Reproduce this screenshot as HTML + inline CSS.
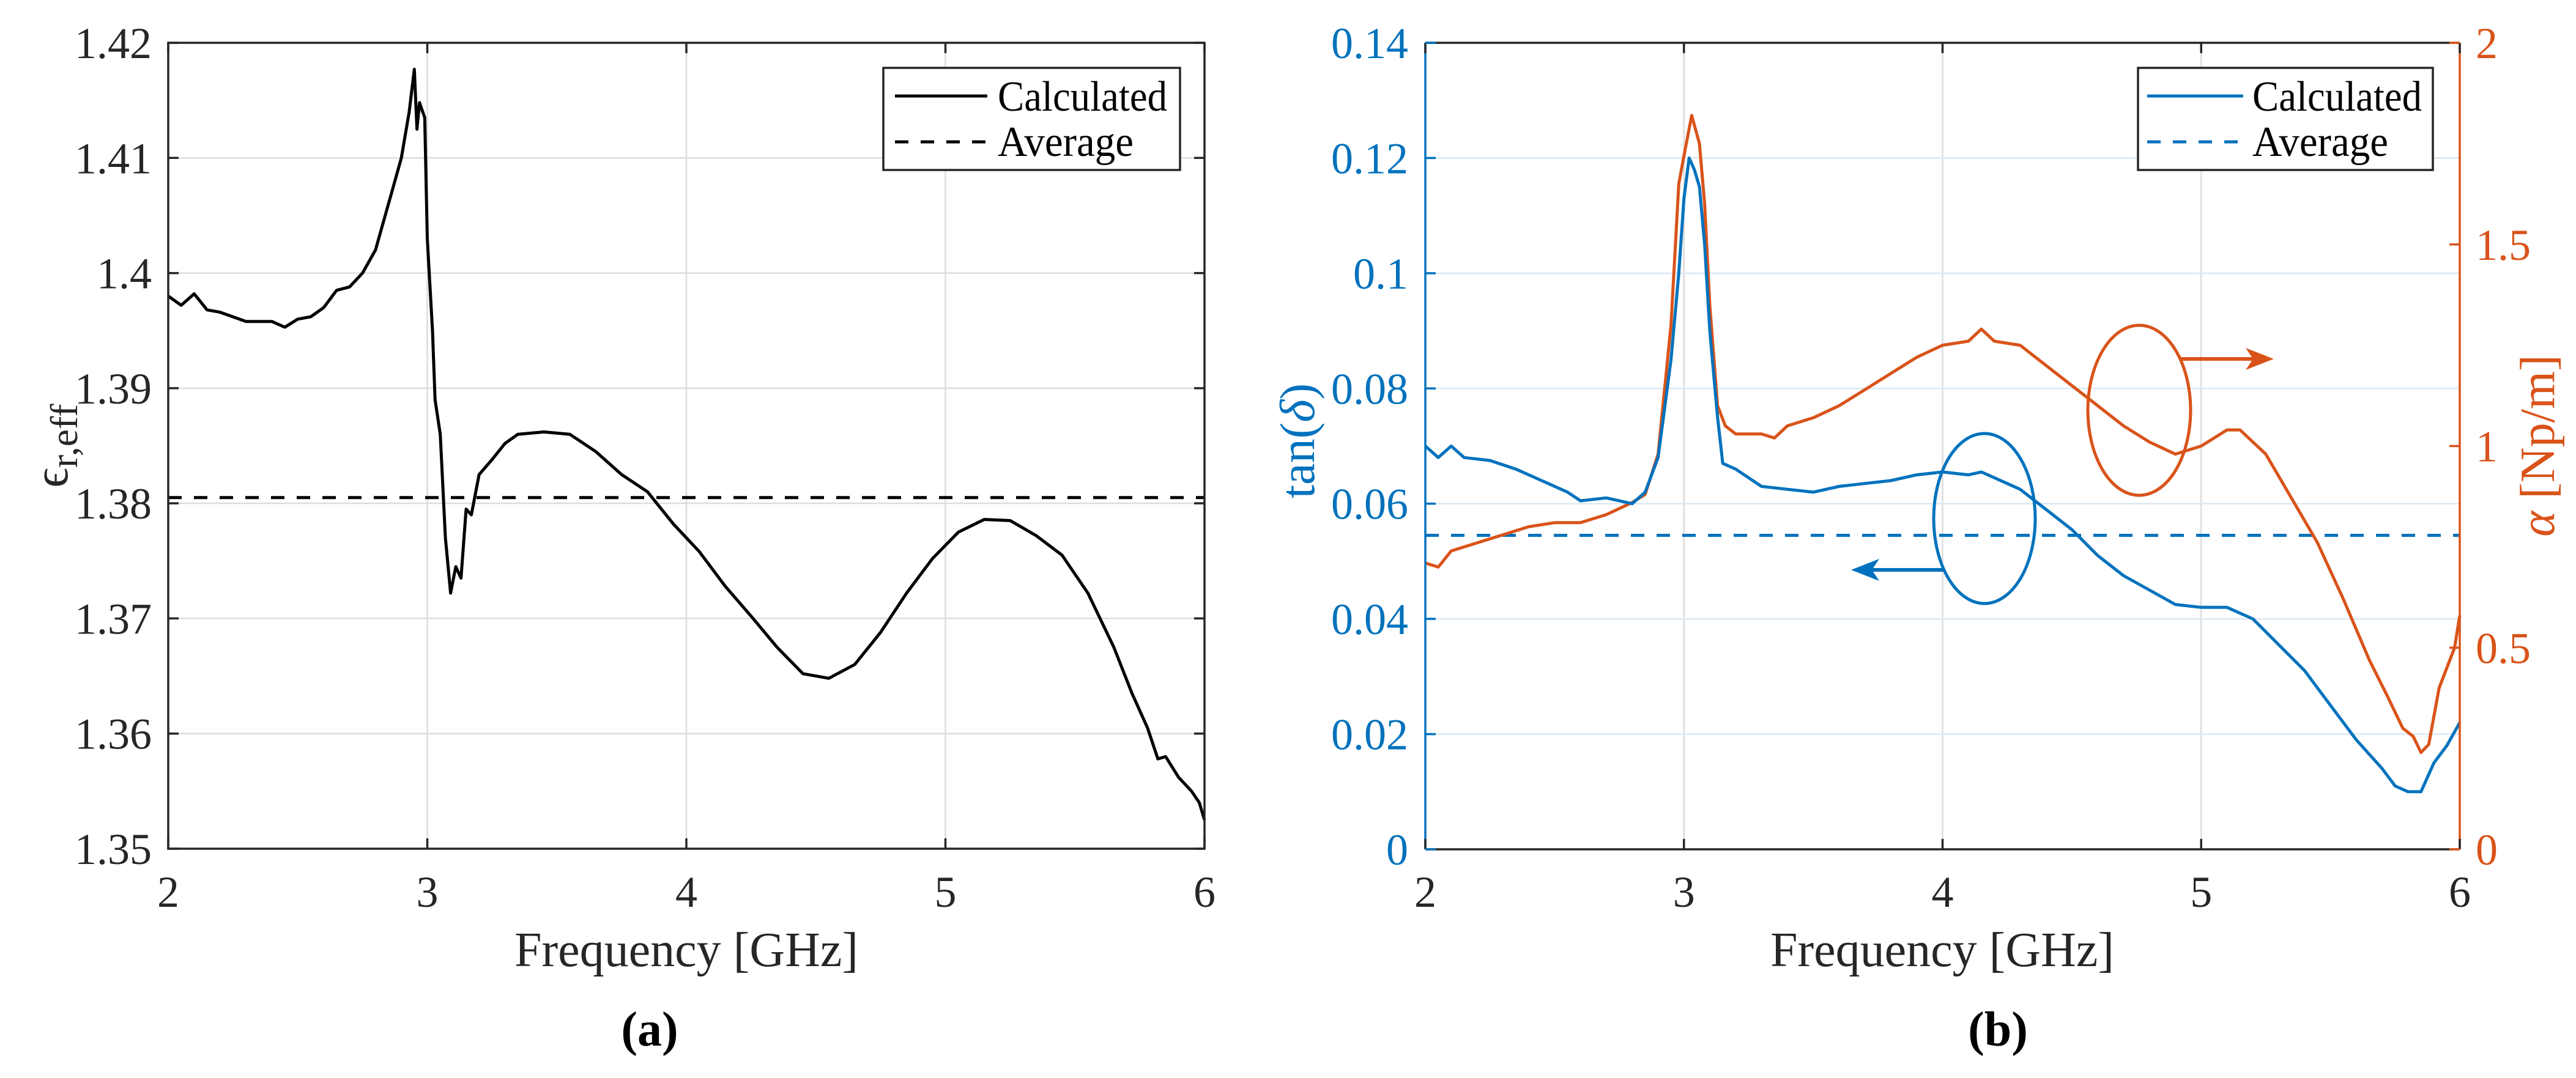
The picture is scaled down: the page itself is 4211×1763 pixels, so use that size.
<!DOCTYPE html>
<html><head><meta charset="utf-8"><style>
html,body{margin:0;padding:0;background:#fff;}
svg text{font-family:"Liberation Serif",serif;}
</style></head><body>
<svg id="fig" width="4211" height="1758" viewBox="0 0 4211 1758" xmlns="http://www.w3.org/2000/svg">
<g id="panelA"></g>
<g id="panelB"></g>
</svg>
<script>
// ---- Panel (a) data ----
const freqA = [2.0,2.05,2.1,2.15,2.2,2.3,2.4,2.45,2.5,2.55,2.6,2.65,2.7,2.75,2.8,2.85,2.9,2.93,2.95,2.96,2.97,2.99,3.0,3.02,3.03,3.05,3.07,3.09,3.11,3.13,3.15,3.17,3.2,3.25,3.3,3.35,3.45,3.55,3.65,3.75,3.85,3.95,4.05,4.15,4.25,4.35,4.45,4.55,4.65,4.75,4.85,4.95,5.05,5.15,5.25,5.35,5.45,5.55,5.65,5.72,5.78,5.82,5.85,5.9,5.95,5.98,6.0];
const epsValues = [1.398,1.3972,1.3982,1.3968,1.3966,1.3958,1.3958,1.3953,1.396,1.3962,1.397,1.3985,1.3988,1.4,1.402,1.406,1.41,1.414,1.4177,1.4125,1.4148,1.4135,1.403,1.395,1.389,1.386,1.377,1.3722,1.3745,1.3735,1.3795,1.379,1.3825,1.3838,1.3852,1.386,1.3862,1.386,1.3845,1.3825,1.381,1.3782,1.3758,1.3728,1.3702,1.3675,1.3652,1.3648,1.366,1.3688,1.3722,1.3752,1.3775,1.3786,1.3785,1.3772,1.3755,1.3722,1.3675,1.3635,1.3605,1.3578,1.358,1.3562,1.355,1.354,1.3525];
const epsAverage = [1.3805];
const xTicks = [2,3,4,5,6];
const yTicksA = [1.35,1.36,1.37,1.38,1.39,1.40,1.41,1.42];
const yTickLabelsA = ["1.35","1.36","1.37","1.38","1.39","1.4","1.41","1.42"];
// ---- Panel (b) data ----
const freqTan = [2.0,2.05,2.1,2.15,2.25,2.35,2.45,2.55,2.6,2.7,2.8,2.85,2.9,2.95,2.98,3.0,3.02,3.04,3.06,3.08,3.1,3.13,3.15,3.2,3.3,3.4,3.5,3.6,3.7,3.8,3.9,4.0,4.1,4.15,4.2,4.3,4.4,4.5,4.6,4.7,4.8,4.9,5.0,5.1,5.2,5.3,5.4,5.5,5.6,5.7,5.75,5.8,5.85,5.9,5.95,6.0];
const tanValues = [0.070,0.068,0.070,0.068,0.0675,0.066,0.064,0.062,0.0605,0.061,0.060,0.062,0.068,0.085,0.100,0.113,0.120,0.118,0.115,0.105,0.090,0.075,0.067,0.066,0.063,0.0625,0.062,0.063,0.0635,0.064,0.065,0.0655,0.065,0.0655,0.0645,0.0625,0.059,0.0555,0.051,0.0475,0.045,0.0425,0.042,0.042,0.040,0.0355,0.031,0.025,0.019,0.014,0.011,0.010,0.010,0.015,0.018,0.022];
const tanAverage = [0.0545];
const freqAlpha = [2.0,2.05,2.1,2.2,2.3,2.4,2.5,2.6,2.7,2.8,2.85,2.9,2.95,2.98,3.0,3.03,3.06,3.08,3.1,3.13,3.16,3.2,3.3,3.35,3.4,3.5,3.6,3.7,3.8,3.9,4.0,4.1,4.15,4.2,4.3,4.4,4.5,4.6,4.7,4.8,4.9,5.0,5.1,5.15,5.25,5.35,5.45,5.55,5.65,5.72,5.78,5.82,5.85,5.88,5.92,5.95,5.98,6.0];
const alphaValues = [0.71,0.70,0.74,0.76,0.78,0.80,0.81,0.81,0.83,0.86,0.88,0.98,1.3,1.65,1.72,1.82,1.75,1.6,1.35,1.1,1.05,1.03,1.03,1.02,1.05,1.07,1.10,1.14,1.18,1.22,1.25,1.26,1.29,1.26,1.25,1.20,1.15,1.10,1.05,1.01,0.98,1.0,1.04,1.04,0.98,0.87,0.76,0.62,0.47,0.38,0.30,0.28,0.24,0.26,0.40,0.45,0.50,0.58];
const yTicksB = [0,0.02,0.04,0.06,0.08,0.10,0.12,0.14];
const yTickLabelsB = ["0","0.02","0.04","0.06","0.08","0.1","0.12","0.14"];
const yTicksR = [0,0.5,1,1.5,2];
const yTickLabelsR = ["0","0.5","1","1.5","2"];

const NS="http://www.w3.org/2000/svg";
const BLUE="#0072BD", ORANGE="#D95319", AX="#262626";
function mk(tag,attrs,parent){const e=document.createElementNS(NS,tag);for(const k in attrs)e.setAttribute(k,attrs[k]);parent.appendChild(e);return e;}
function lin(d0,d1,r0,r1){return v=>r0+(v-d0)*(r1-r0)/(d1-d0);}
function pathD(xs,ys,sx,sy){return xs.map((x,i)=>(i?"L":"M")+sx(x).toFixed(1)+" "+sy(ys[i]).toFixed(1)).join(" ");}

// ===== Panel A =====
(function(){
const g=document.getElementById('panelA');
const L=275,R=1969,T=70,B=1388;
const sx=lin(2,6,L,R), sy=lin(1.35,1.42,B,T);
xTicks.forEach(v=>{const l=mk('line',{x1:sx(v),x2:sx(v),y1:T,y2:B,stroke:'#dcdcdc','stroke-width':2.5},g);
});
yTicksA.forEach(v=>{const l=mk('line',{x1:L,x2:R,y1:sy(v),y2:sy(v),stroke:'#dcdcdc','stroke-width':2.5},g);
});
const avg=mk('line',{x1:L,x2:R,y1:sy(epsAverage[0]),y2:sy(epsAverage[0]),stroke:'#000','stroke-width':5,'stroke-dasharray':'22 20'},g);

const c=mk('path',{d:pathD(freqA,epsValues,sx,sy),fill:'none',stroke:'#000','stroke-width':5,'stroke-linejoin':'round'},g);

const box=mk('rect',{x:L,y:T,width:R-L,height:B-T,fill:'none',stroke:AX,'stroke-width':3.5},g);

xTicks.forEach(v=>{
 mk('line',{x1:sx(v),x2:sx(v),y1:B,y2:B-17,stroke:AX,'stroke-width':3.5},g);
 mk('line',{x1:sx(v),x2:sx(v),y1:T,y2:T+17,stroke:AX,'stroke-width':3.5},g);
 const t=mk('text',{x:sx(v),y:1483,'text-anchor':'middle','font-size':72,fill:AX},g);t.textContent=v;
 });
yTicksA.forEach((v,i)=>{
 mk('line',{x1:L,x2:L+17,y1:sy(v),y2:sy(v),stroke:AX,'stroke-width':3.5},g);
 mk('line',{x1:R,x2:R-17,y1:sy(v),y2:sy(v),stroke:AX,'stroke-width':3.5},g);
 const t=mk('text',{x:248,y:sy(v)+25,'text-anchor':'end','font-size':72,fill:AX},g);t.textContent=yTickLabelsA[i];
 });
const xl=mk('text',{x:1122,y:1580,'text-anchor':'middle','font-size':80,fill:AX},g);xl.textContent='Frequency [GHz]';

const yl=mk('text',{x:0,y:0,'text-anchor':'middle','font-size':80,fill:AX,transform:'translate(110,729) rotate(-90)'},g);
yl.innerHTML='ϵ<tspan font-size="64" dy="16">r,eff</tspan>';

const cap=mk('text',{x:1062,y:1710,'text-anchor':'middle','font-size':80,'font-weight':'bold',fill:'#000'},g);cap.textContent='(a)';

const lg=mk('g',{},g);
mk('rect',{x:1444,y:111,width:485,height:167,fill:'#fff',stroke:AX,'stroke-width':3.5},lg);
mk('line',{x1:1463,x2:1614,y1:157,y2:157,stroke:'#000','stroke-width':5},lg);
mk('line',{x1:1463,x2:1614,y1:232,y2:232,stroke:'#000','stroke-width':5,'stroke-dasharray':'22 20'},lg);
const e1=mk('text',{x:1631,y:181,'font-size':70,fill:'#000',textLength:277,lengthAdjust:'spacingAndGlyphs'},lg);e1.textContent='Calculated';

const e2=mk('text',{x:1631,y:255,'font-size':70,fill:'#000',textLength:222,lengthAdjust:'spacingAndGlyphs'},lg);e2.textContent='Average';

})();

// ===== Panel B =====
(function(){
const g=document.getElementById('panelB');
const L=2330,R=4021,T=70,B=1389;
const sx=lin(2,6,L,R), sy=lin(0,0.14,B,T), sr=lin(0,2,B,T);
xTicks.forEach(v=>{const l=mk('line',{x1:sx(v),x2:sx(v),y1:T,y2:B,stroke:'#dcdcdc','stroke-width':2.5},g);
});
yTicksB.forEach(v=>{const l=mk('line',{x1:L,x2:R,y1:sy(v),y2:sy(v),stroke:'#dce8f3','stroke-width':2.5},g);
});
const avg=mk('line',{x1:L,x2:R,y1:sy(tanAverage[0]),y2:sy(tanAverage[0]),stroke:BLUE,'stroke-width':5,'stroke-dasharray':'22 20'},g);

const ca=mk('path',{d:pathD(freqAlpha,alphaValues,sx,sr),fill:'none',stroke:ORANGE,'stroke-width':5,'stroke-linejoin':'round'},g);

const ct=mk('path',{d:pathD(freqTan,tanValues,sx,sy),fill:'none',stroke:BLUE,'stroke-width':5,'stroke-linejoin':'round'},g);

// annotations
const el1=mk('ellipse',{cx:3244,cy:848,rx:83,ry:139,fill:'none',stroke:BLUE,'stroke-width':5},g);

const ar1=mk('g',{},g);
mk('line',{x1:3176,x2:3045,y1:932,y2:932,stroke:BLUE,'stroke-width':6},ar1);
mk('polygon',{points:'3026,932 3072,914 3060,932 3072,950',fill:BLUE},ar1);
const el2=mk('ellipse',{cx:3497,cy:671,rx:84,ry:139,fill:'none',stroke:ORANGE,'stroke-width':5},g);

const ar2=mk('g',{},g);
mk('line',{x1:3564,x2:3700,y1:587,y2:587,stroke:ORANGE,'stroke-width':6},ar2);
mk('polygon',{points:'3717,587 3671,569 3683,587 3671,605',fill:ORANGE},ar2);
// axes
mk('line',{x1:L,x2:R,y1:B,y2:B,stroke:AX,'stroke-width':3.5},g);
mk('line',{x1:L,x2:R,y1:T,y2:T,stroke:AX,'stroke-width':3.5},g);
const la=mk('line',{x1:L,x2:L,y1:T,y2:B,stroke:BLUE,'stroke-width':3.5},g);

const ra=mk('line',{x1:R,x2:R,y1:T,y2:B,stroke:ORANGE,'stroke-width':3.5},g);

xTicks.forEach(v=>{
 mk('line',{x1:sx(v),x2:sx(v),y1:B,y2:B-17,stroke:AX,'stroke-width':3.5},g);
 mk('line',{x1:sx(v),x2:sx(v),y1:T,y2:T+17,stroke:AX,'stroke-width':3.5},g);
 const t=mk('text',{x:sx(v),y:1483,'text-anchor':'middle','font-size':72,fill:AX},g);t.textContent=v;
 });
yTicksB.forEach((v,i)=>{
 mk('line',{x1:L,x2:L+17,y1:sy(v),y2:sy(v),stroke:BLUE,'stroke-width':3.5},g);
 const t=mk('text',{x:2302,y:sy(v)+25,'text-anchor':'end','font-size':72,fill:BLUE},g);t.textContent=yTickLabelsB[i];
 });
yTicksR.forEach((v,i)=>{
 mk('line',{x1:R,x2:R-17,y1:sr(v),y2:sr(v),stroke:ORANGE,'stroke-width':3.5},g);
 const t=mk('text',{x:4047,y:sr(v)+25,'text-anchor':'start','font-size':72,fill:ORANGE},g);t.textContent=yTickLabelsR[i];
 });
const xl=mk('text',{x:3175,y:1580,'text-anchor':'middle','font-size':80,fill:AX},g);xl.textContent='Frequency [GHz]';

const yl=mk('text',{x:0,y:0,'text-anchor':'middle','font-size':80,fill:BLUE,transform:'translate(2148,721) rotate(-90)'},g);
yl.innerHTML='tan(<tspan font-style="italic">δ</tspan>)';

const yr=mk('text',{x:0,y:0,'text-anchor':'middle','font-size':80,fill:ORANGE,transform:'translate(4175,729) rotate(-90)'},g);
yr.innerHTML='<tspan font-style="italic">α</tspan> [Np/m]';

const cap=mk('text',{x:3266,y:1710,'text-anchor':'middle','font-size':80,'font-weight':'bold',fill:'#000'},g);cap.textContent='(b)';

const lg=mk('g',{},g);
mk('rect',{x:3495,y:111,width:482,height:167,fill:'#fff',stroke:AX,'stroke-width':3.5},lg);
mk('line',{x1:3510,x2:3667,y1:157,y2:157,stroke:BLUE,'stroke-width':5},lg);
mk('line',{x1:3510,x2:3667,y1:232,y2:232,stroke:BLUE,'stroke-width':5,'stroke-dasharray':'22 20'},lg);
const e1=mk('text',{x:3682,y:181,'font-size':70,fill:'#000',textLength:277,lengthAdjust:'spacingAndGlyphs'},lg);e1.textContent='Calculated';

const e2=mk('text',{x:3682,y:255,'font-size':70,fill:'#000',textLength:222,lengthAdjust:'spacingAndGlyphs'},lg);e2.textContent='Average';

})();
</script>
</body></html>
